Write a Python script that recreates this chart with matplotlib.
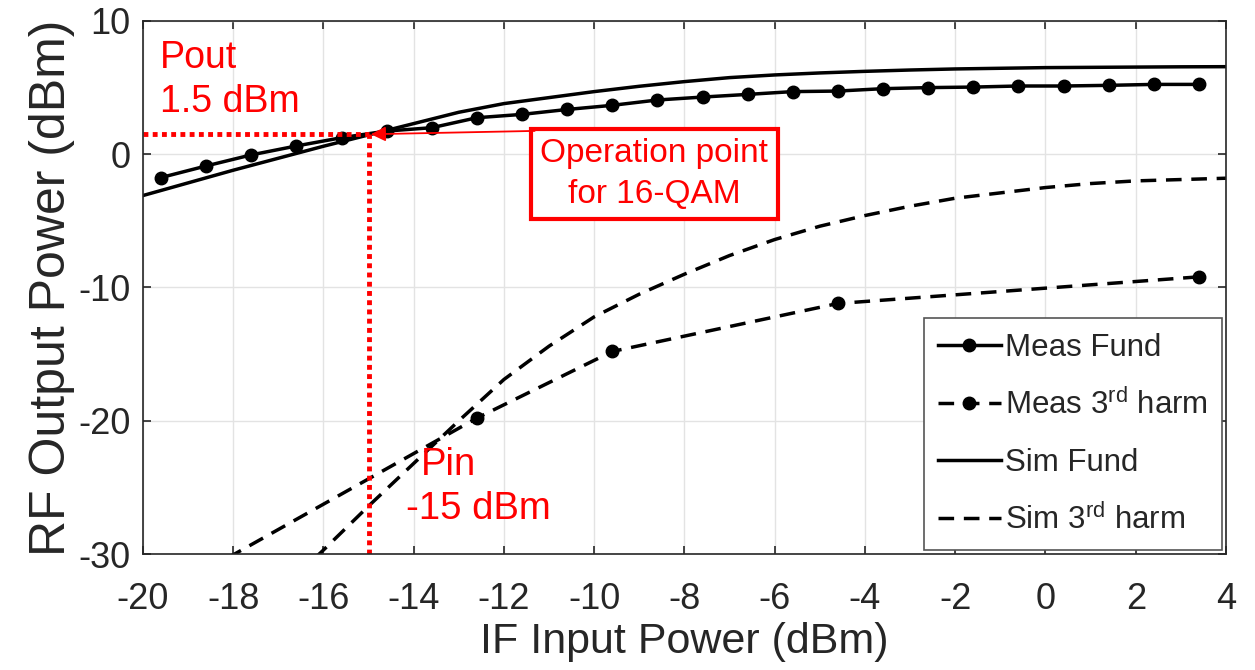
import numpy as np
import matplotlib
matplotlib.use("Agg")
import matplotlib.pyplot as plt

plt.rcParams['font.family'] = ['Liberation Sans', 'DejaVu Sans']
plt.rcParams['axes.unicode_minus'] = False
plt.rcParams['mathtext.fontset'] = 'custom'
plt.rcParams['mathtext.rm'] = 'Liberation Sans'
plt.rcParams['mathtext.it'] = 'Liberation Sans:italic'

# measured fundamental (dBm in -> dBm out)
meas_fund_x = [-19.6, -18.6, -17.6, -16.6, -15.6, -14.6, -13.6, -12.6, -11.6, -10.6,
               -9.6, -8.6, -7.6, -6.6, -5.6, -4.6, -3.6, -2.6, -1.6, -0.6,
               0.4, 1.4, 2.4, 3.4]
meas_fund_y = [-1.75, -0.88, -0.05, 0.62, 1.24, 1.74, 1.99, 2.74, 2.99, 3.36,
               3.67, 4.07, 4.29, 4.49, 4.70, 4.74, 4.92, 5.00, 5.04, 5.12,
               5.12, 5.17, 5.24, 5.24]

# measured 3rd harmonic
meas_h3_x = [-19.6, -12.6, -9.6, -4.6, 3.4]
meas_h3_y = [-33.1, -19.8, -14.8, -11.2, -9.2]

# simulated fundamental
sim_fund_x = [-20, -19, -18, -17, -16, -15, -14, -13, -12, -11, -10, -9, -8,
              -7, -6, -5, -4, -3, -2, -1, 0, 1, 2, 3, 4]
sim_fund_y = [-3.1, -2.15, -1.2, -0.3, 0.6, 1.45, 2.3, 3.15, 3.8, 4.25, 4.7, 5.1, 5.45,
              5.75, 5.95, 6.1, 6.22, 6.32, 6.4, 6.45, 6.5, 6.52, 6.54, 6.56, 6.57]

# simulated 3rd harmonic
sim_h3_x = [-17, -16, -15, -14, -13, -12, -11, -10, -9, -8, -7, -6, -5,
            -4, -3, -2, -1, 0, 1, 2, 3, 4]
sim_h3_y = [-32.9, -29.7, -26.4, -23.2, -20.0, -16.9, -14.4, -12.2, -10.5, -9.0, -7.6, -6.4, -5.4,
            -4.6, -3.9, -3.3, -2.9, -2.5, -2.2, -2.0, -1.9, -1.8]

# 16-QAM operating point
pin_op = -15
pout_op = 1.5

fig = plt.figure(figsize=(12.55, 6.7), dpi=100)
ax = fig.add_axes([0.1139, 0.1731, 0.9769 - 0.1139, 0.9687 - 0.1731])

lw = 2.5
dash = (0, (4.5, 2.8))
ax.plot(meas_fund_x, meas_fund_y, color='black', lw=lw, marker='o', ms=9, label='Meas Fund')
ax.plot(meas_h3_x, meas_h3_y, color='black', lw=lw, ls=dash, marker='o', ms=9,
        label='Meas 3$^{\\rm rd}$ harm')
ax.plot(sim_fund_x, sim_fund_y, color='black', lw=lw, label='Sim Fund')
ax.plot(sim_h3_x, sim_h3_y, color='black', lw=lw, ls=dash, label='Sim 3$^{\\rm rd}$ harm')

# operating point guides
red = '#ff0000'
ax.plot([-20, pin_op], [pout_op, pout_op], color=red, lw=3.5, ls=(0, (1, 0.9)))
ax.plot([pin_op, pin_op], [-30, pout_op], color=red, lw=3.5, ls=(0, (1, 0.9)))

ax.text(-19.62, 6.5, 'Pout', color=red, fontsize=27, va='baseline')
ax.text(-19.62, 3.2, '1.5 dBm', color=red, fontsize=27, va='baseline')
ax.text(-13.84, -24.1, 'Pin', color=red, fontsize=27.5, va='baseline')
ax.text(-14.18, -27.4, '-15 dBm', color=red, fontsize=27.5, va='baseline')

ax.text(-8.67, -1.5, 'Operation point\nfor 16-QAM', color=red, fontsize=24,
        ha='center', va='center', linespacing=1.4,
        bbox=dict(boxstyle='square,pad=0.28', fc='white', ec=red, lw=3))
ax.annotate('', xy=(pin_op + 0.05, pout_op), xytext=(-11.32, 1.75),
            arrowprops=dict(arrowstyle='-|>', color=red, lw=1.3,
                            mutation_scale=22, shrinkA=0, shrinkB=0))

ax.set_xlim(-20, 4)
ax.set_ylim(-30, 10)
ax.set_xticks(np.arange(-20, 5, 2))
ax.set_yticks(np.arange(-30, 11, 10))
ax.tick_params(labelsize=26, direction='in', length=6, width=1.2, colors='#262626',
               top=True, right=True)
ax.tick_params(axis='x', pad=20)
ax.tick_params(axis='y', pad=9)
ax.grid(True, color='#e3e3e3', lw=1)
ax.set_axisbelow(True)
for s in ax.spines.values():
    s.set_color('#262626')
    s.set_linewidth(1.2)

ax.set_xlabel('IF Input Power (dBm)', fontsize=31, color='#262626', labelpad=4)
ax.set_ylabel('RF Output Power (dBm)', fontsize=36, color='#262626', labelpad=2)

leg = ax.legend(loc='lower right', fontsize=22.5, handlelength=2.0, handletextpad=0.15,
                borderaxespad=0.12, borderpad=0.45, labelspacing=0.85, fancybox=False,
                framealpha=1, edgecolor='#555555')
leg.get_frame().set_linewidth(1.2)
for t in leg.get_texts():
    t.set_color('#262626')

fig.savefig('out.png', dpi=100)
